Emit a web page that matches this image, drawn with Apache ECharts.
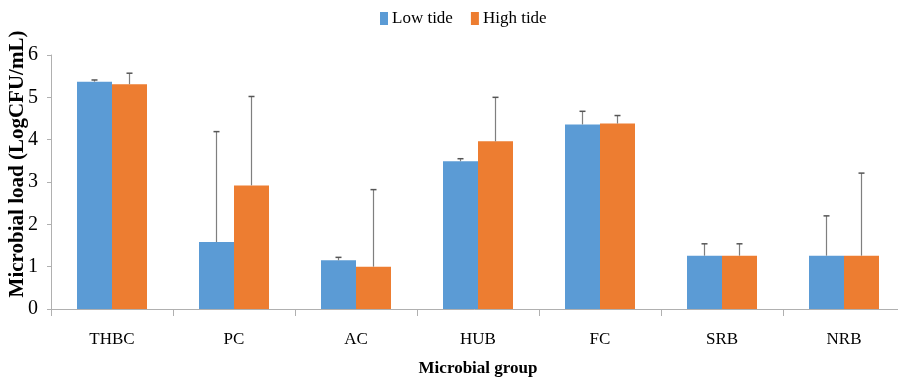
<!DOCTYPE html>
<html>
<head>
<meta charset="utf-8">
<script src="https://cdn.jsdelivr.net/npm/echarts@6/dist/echarts.min.js"></script>
<style>
  html, body { margin: 0; padding: 0; background: #fff; }
  #chart { width: 898px; height: 382px; }
</style>
</head>
<body>
<div id="chart"></div>
<script>
// data
const categories = ['THBC', 'PC', 'AC', 'HUB', 'FC', 'SRB', 'NRB'];
const lowTide = [5.37, 1.58, 1.15, 3.49, 4.36, 1.26, 1.26];
const highTide = [5.31, 2.92, 1.00, 3.96, 4.38, 1.26, 1.26];
// upper end of the error bars
const lowTideErr = [5.41, 4.19, 1.22, 3.55, 4.67, 1.54, 2.20];
const highTideErr = [5.57, 5.02, 2.82, 5.00, 4.57, 1.54, 3.21];
const yTicks = [0, 1, 2, 3, 4, 5, 6];

const BAR_W = 35;
const serif = '"Liberation Serif", "Times New Roman", serif';

const chartDom = document.getElementById('chart');
const myChart = echarts.init(chartDom);

// error bar drawn from bar top up to the upper value
function errorBar(shift) {
    return function (params, api) {
        const i = api.value(0);
        const top = api.coord([i, api.value(1)]);
        const hi = api.coord([i, api.value(2)]);
        const x = top[0] + shift;
        const style = { stroke: '#7f7f7f', lineWidth: 1.2 };
        return {
            type: 'group',
            children: [
                { type: 'line', shape: { x1: x, y1: top[1], x2: x, y2: hi[1] }, style: style },
                { type: 'line', shape: { x1: x - 3, y1: hi[1], x2: x + 3, y2: hi[1] }, style: { stroke: '#555', lineWidth: 1.5 } }
            ]
        };
    };
}

const option = {
    animation: false,
    textStyle: { fontFamily: serif },
    legend: {
        top: 5,
        left: 375,
        itemWidth: 8,
        itemHeight: 13,
        itemGap: 18,
        icon: 'rect',
        textStyle: { fontFamily: serif, fontSize: 17, color: '#000', padding: [0, 0, 0, -1] },
        data: ['Low tide', 'High tide']
    },
    grid: { left: 51, top: 55, width: 854, bottom: 73, outerBoundsMode: 'none', containLabel: false },
    xAxis: {
        type: 'category',
        data: categories,
        name: 'Microbial group',
        nameLocation: 'middle',
        nameGap: 51,
        nameMoveOverlap: false,
        nameTextStyle: { fontFamily: serif, fontSize: 17, fontWeight: 'bold', color: '#000' },
        axisLine: { lineStyle: { color: '#b0b0b0', width: 1 } },
        axisTick: { show: true, length: 7, lineStyle: { color: '#b0b0b0' } },
        axisLabel: { margin: 22, fontFamily: serif, fontSize: 17, color: '#000' }
    },
    yAxis: {
        type: 'value',
        min: 0,
        max: 6,
        interval: 1,
        name: 'Microbial load (LogCFU/mL)',
        nameLocation: 'middle',
        nameGap: 23,
        nameMoveOverlap: false,
        nameTextStyle: { fontFamily: serif, fontSize: 21, fontWeight: 'bold', color: '#000', padding: [0, 0, 0, 36] },
        splitLine: { show: false },
        axisLine: { show: true, lineStyle: { color: '#b0b0b0', width: 1 } },
        axisTick: { show: true, length: 4, lineStyle: { color: '#b0b0b0' } },
        axisLabel: {
            margin: 13,
            fontFamily: serif,
            fontSize: 20,
            color: '#000',
            formatter: function (v) { return yTicks.indexOf(v) >= 0 ? String(v) : ''; }
        }
    },
    series: [
        {
            name: 'Low tide',
            type: 'bar',
            data: lowTide,
            barWidth: BAR_W,
            barGap: '0%',
            itemStyle: { color: '#5b9bd5' }
        },
        {
            name: 'High tide',
            type: 'bar',
            data: highTide,
            barWidth: BAR_W,
            barGap: '0%',
            itemStyle: { color: '#ed7d31' }
        },
        {
            type: 'custom',
            renderItem: errorBar(-BAR_W / 2),
            data: lowTide.map((v, i) => [i, v, lowTideErr[i]]),
            encode: { x: 0, y: [1, 2] },
            z: 10
        },
        {
            type: 'custom',
            renderItem: errorBar(BAR_W / 2),
            data: highTide.map((v, i) => [i, v, highTideErr[i]]),
            encode: { x: 0, y: [1, 2] },
            z: 10
        }
    ]
};

option && myChart.setOption(option);
</script>
</body>
</html>
